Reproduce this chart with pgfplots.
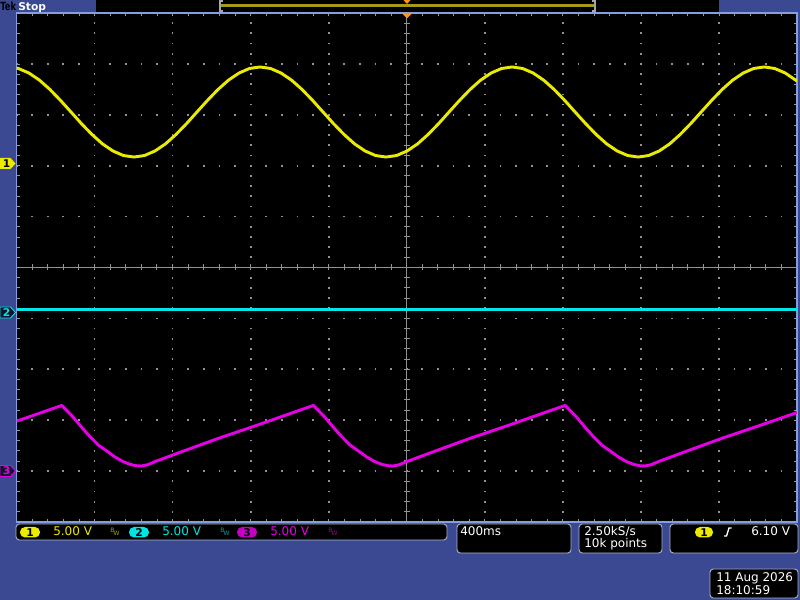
\documentclass[border=0pt]{standalone}
\usepackage{pgfplots}
\pgfplotsset{compat=1.18}
\usepackage{fontspec}
\setmainfont{DejaVu Sans}

\definecolor{scopebg}{RGB}{59,73,146}
\definecolor{frame}{RGB}{130,160,225}
\definecolor{gridc}{RGB}{145,145,145}
\definecolor{chA}{RGB}{235,235,0}
\definecolor{chB}{RGB}{0,230,230}
\definecolor{chC}{RGB}{230,0,230}
\definecolor{boxline}{RGB}{170,180,205}
\definecolor{recbar}{RGB}{165,155,20}
\definecolor{trig}{RGB}{255,150,20}
\definecolor{mkfill}{RGB}{15,20,45}

\begin{document}
\begin{tikzpicture}[every node/.style={inner sep=0pt, font=\fontsize{9}{9}\selectfont}]
\path[use as bounding box, fill=scopebg] (0,0) rectangle (600pt,450pt);

\begin{scope}[x=0.75pt,y=0.75pt]
% top status bar
\fill[black] (96,588) rectangle (719,600);
\draw[recbar, line width=1.6pt] (220,594.5) -- (595,594.5);
\draw[gray!70, line width=0.8pt] (223,599) -- (220,599) -- (220,589) -- (223,589);
\draw[gray!70, line width=0.8pt] (592,599) -- (595,599) -- (595,589) -- (592,589);
\fill[trig] (403.5,600) -- (410.5,600) -- (407,596) -- cycle;
\node[anchor=base west, text=black, font=\bfseries\fontsize{8.5}{8.5}\selectfont] at (0,589.5) {\scalebox{0.74}[1]{Tek}};
\node[anchor=base west, text=white, font=\bfseries\fontsize{8}{8}\selectfont] at (18,589.5) {Stop};
% screen
\fill[black] (16.5,78) rectangle (797,587);
\end{scope}

% centre cross with its ticks
\begin{axis}[at={(12.375pt,58.5pt)}, anchor=south west, scale only axis,
  width=585.375pt, height=381.75pt,
  xmin=-5, xmax=5, ymin=-5, ymax=5,
  axis lines=middle,
  axis line style={-, draw=gridc, line width=0.75pt},
  xtick={-4.8,-4.6,...,4.8}, ytick={-4.8,-4.6,...,4.8},
  xticklabels={}, yticklabels={},
  tick align=center, major tick length=4.5pt,
  tick style={draw=gray!85!white, line width=0.75pt}]
\end{axis}

% graticule and traces (x, y in divisions)
\begin{axis}[at={(12.375pt,58.5pt)}, anchor=south west, scale only axis,
  width=585.375pt, height=381.75pt,
  xmin=0, xmax=10, ymin=-5, ymax=5,
  axis line style={draw=frame, line width=0.9pt},
  xtick={1,2,3,4,6,7,8,9}, ytick={-4,-3,-2,-1,1,2,3,4},
  minor xtick={0.2,0.4,...,9.8}, minor ytick={-4.8,-4.6,...,4.8},
  xticklabels={}, yticklabels={},
  tick align=inside, major tick length=2.6pt, minor tick length=2.6pt,
  tick style={draw=gray!80!white, line width=0.6pt},
  grid=major,
  x grid style={draw=gridc, line width=1.3pt, dash pattern=on 1.3pt off 6.335pt, dash phase=0.65pt},
  y grid style={draw=gridc, line width=1.3pt, dash pattern=on 1.3pt off 10.4075pt, dash phase=0.65pt},
  every axis plot/.append style={line join=round}]

% channel 3
\addplot[chC, line width=2.2pt] coordinates {
(0,-3.02) (0.3,-2.86) (0.58,-2.71)
(0.65,-2.82) (0.72,-2.93) (0.83,-3.13) (0.94,-3.32) (1.05,-3.49) (1.16,-3.61)
(1.26,-3.72) (1.36,-3.81) (1.46,-3.87) (1.54,-3.895) (1.60,-3.90) (1.68,-3.875)
(1.78,-3.81) (2.08,-3.64) (2.58,-3.36) (3.08,-3.10) (3.58,-2.83) (3.805,-2.71)
(3.875,-2.82) (3.945,-2.93) (4.055,-3.13) (4.165,-3.32) (4.275,-3.49) (4.385,-3.61)
(4.485,-3.72) (4.585,-3.81) (4.685,-3.87) (4.765,-3.895) (4.825,-3.90) (4.905,-3.875)
(5.005,-3.81) (5.305,-3.64) (5.805,-3.36) (6.305,-3.10) (6.805,-2.83) (7.03,-2.71)
(7.10,-2.82) (7.17,-2.93) (7.28,-3.13) (7.39,-3.32) (7.50,-3.49) (7.61,-3.61)
(7.71,-3.72) (7.81,-3.81) (7.91,-3.87) (7.99,-3.895) (8.05,-3.90) (8.13,-3.875)
(8.23,-3.81) (8.53,-3.64) (9.03,-3.36) (9.53,-3.10) (10,-2.85)};

% channel 2
\addplot[chB, line width=2.5pt] coordinates {(0,-0.83) (10,-0.83)};

% channel 1
\addplot[chA, line width=2.2pt] coordinates {
(0,3.920) (0.024,3.910) (0.159,3.821) (0.294,3.681) (0.428,3.498) (0.563,3.284)
(0.698,3.055) (0.832,2.826) (0.967,2.613) (1.101,2.429) (1.236,2.289) (1.370,2.200)
(1.505,2.170) (1.640,2.200) (1.774,2.289) (1.909,2.429) (2.043,2.613) (2.178,2.826)
(2.312,3.055) (2.447,3.284) (2.582,3.498) (2.716,3.681) (2.851,3.821) (2.985,3.910)
(3.120,3.940) (3.255,3.910) (3.389,3.821) (3.524,3.681) (3.658,3.498) (3.793,3.284)
(3.927,3.055) (4.062,2.826) (4.197,2.613) (4.331,2.429) (4.466,2.289) (4.600,2.200)
(4.735,2.170) (4.870,2.200) (5.004,2.289) (5.139,2.429) (5.273,2.613) (5.408,2.826)
(5.542,3.055) (5.677,3.284) (5.812,3.498) (5.946,3.681) (6.081,3.821) (6.215,3.910)
(6.350,3.940) (6.484,3.910) (6.619,3.821) (6.754,3.681) (6.888,3.498) (7.023,3.284)
(7.157,3.055) (7.292,2.826) (7.427,2.613) (7.561,2.429) (7.696,2.289) (7.830,2.200)
(7.965,2.170) (8.099,2.200) (8.234,2.289) (8.369,2.429) (8.503,2.613) (8.638,2.826)
(8.772,3.055) (8.907,3.284) (9.041,3.498) (9.176,3.681) (9.311,3.821) (9.445,3.910)
(9.580,3.940) (9.714,3.910) (9.849,3.821) (9.983,3.681) (10,3.660)};
\end{axis}

\begin{scope}[x=0.75pt,y=0.75pt]
% trigger position marker
\fill[trig] (401.5,587) -- (412.5,587) -- (407,581.5) -- cycle;

% channel ground markers
\fill[chA] (0,431) -- (10.5,431) -- (15.5,436.5) -- (10.5,442) -- (0,442) -- cycle;
\node[text=black, font=\bfseries\fontsize{8}{8}\selectfont] at (6.5,436.5) {1};
\filldraw[draw=chB, fill=mkfill, line width=0.7pt] (0,282) -- (10.5,282) -- (15.5,287.5) -- (10.5,293) -- (0,293) -- cycle;
\node[text=chB, font=\bfseries\fontsize{8}{8}\selectfont] at (6.5,287.5) {2};
\filldraw[draw=chC, fill=mkfill, line width=0.7pt] (0,123.5) -- (10.5,123.5) -- (15.5,129) -- (10.5,134.5) -- (0,134.5) -- cycle;
\node[text=chC, font=\bfseries\fontsize{8}{8}\selectfont] at (6.5,129) {3};

% channel readouts
\filldraw[fill=black, draw=boxline, line width=0.7pt, rounded corners=2.5pt] (16,60) rectangle (447,76);
\fill[chA, rounded corners=3.8pt] (20,62.5) rectangle (40,73);
\node[text=black, font=\bfseries\fontsize{8}{8}\selectfont] at (30,67.75) {1};
\node[anchor=base west, text=chA] at (53,64.3) {5.00 V};
\node[text=chA!70!black, font=\fontsize{4.5}{4.5}\selectfont] at (115,68) {B\kern-0.6pt\raisebox{-2pt}{W}};
\fill[chB, rounded corners=3.8pt] (129,62.5) rectangle (149,73);
\node[text=black, font=\bfseries\fontsize{8}{8}\selectfont] at (139,67.75) {2};
\node[anchor=base west, text=chB] at (162,64.3) {5.00 V};
\node[text=chB!70!black, font=\fontsize{4.5}{4.5}\selectfont] at (225,68) {B\kern-0.6pt\raisebox{-2pt}{W}};
\fill[chC!85!black, rounded corners=3.8pt] (237,62.5) rectangle (257,73);
\node[text=black, font=\bfseries\fontsize{8}{8}\selectfont] at (247,67.75) {3};
\node[anchor=base west, text=chC] at (270,64.3) {5.00 V};
\node[text=chC!70!black, font=\fontsize{4.5}{4.5}\selectfont] at (333,68) {B\kern-0.6pt\raisebox{-2pt}{W}};

% timebase
\filldraw[fill=black, draw=boxline, line width=0.7pt, rounded corners=2.5pt] (457,47) rectangle (571,76);
\node[anchor=base west, text=white] at (460,64.3) {400ms};

% acquisition
\filldraw[fill=black, draw=boxline, line width=0.7pt, rounded corners=2.5pt] (579,47) rectangle (662,76);
\node[anchor=base west, text=white] at (584,64.3) {2.50kS/s};
\node[anchor=base west, text=white] at (584,52.5) {10k points};

% trigger
\filldraw[fill=black, draw=boxline, line width=0.7pt, rounded corners=2.5pt] (670,47) rectangle (798,76);
\fill[chA, rounded corners=3.8pt] (695,62.5) rectangle (713,73);
\node[text=black, font=\bfseries\fontsize{8}{8}\selectfont] at (704,67.75) {1};
\draw[white, line width=1pt] (724,64) -- (726.5,64) -- (729,72) -- (731.5,72);
\node[anchor=base west, text=white] at (751,64.3) {6.10 V};

% date and time
\filldraw[fill=black, draw=boxline, line width=0.7pt, rounded corners=2.5pt] (710,2) rectangle (798,31);
\node[anchor=base west, text=white] at (716,18.3) {11 Aug 2026};
\node[anchor=base west, text=white] at (716,6) {18:10:59};
\end{scope}
\end{tikzpicture}
\end{document}
